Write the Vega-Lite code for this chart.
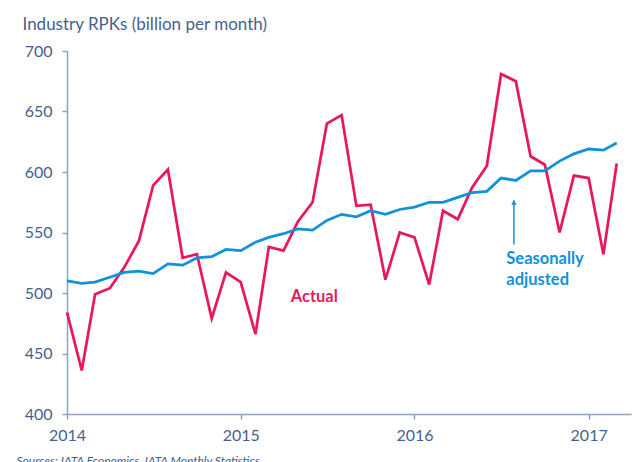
{
  "$schema": "https://vega.github.io/schema/vega-lite/v6.json",
  "autosize": "none",
  "width": 564,
  "height": 363,
  "padding": {"left": 67, "top": 51, "right": 5, "bottom": 48},
  "background": "white",
  "config": {
    "view": {"stroke": null},
    "font": "Lato",
    "axis": {
      "labelFont": "Lato",
      "labelFontSize": 16,
      "labelColor": "#46618F",
      "domainColor": "#8EA2C4",
      "domainWidth": 1.5,
      "tickColor": "#8EA2C4",
      "tickWidth": 1.5,
      "tickSize": 5,
      "grid": false
    }
  },
  "datasets": {
    "series": [
      {"date": "2014-01-01", "actual": 484, "sa": 510},
      {"date": "2014-02-01", "actual": 436, "sa": 508},
      {"date": "2014-03-01", "actual": 499, "sa": 509},
      {"date": "2014-04-01", "actual": 504, "sa": 513},
      {"date": "2014-05-01", "actual": 521, "sa": 517},
      {"date": "2014-06-01", "actual": 543, "sa": 518},
      {"date": "2014-07-01", "actual": 589, "sa": 516},
      {"date": "2014-08-01", "actual": 602, "sa": 524},
      {"date": "2014-09-01", "actual": 529, "sa": 523},
      {"date": "2014-10-01", "actual": 532, "sa": 529},
      {"date": "2014-11-01", "actual": 479, "sa": 530},
      {"date": "2014-12-01", "actual": 517, "sa": 536},
      {"date": "2015-01-01", "actual": 509, "sa": 535},
      {"date": "2015-02-01", "actual": 466, "sa": 542},
      {"date": "2015-03-01", "actual": 538, "sa": 546},
      {"date": "2015-04-01", "actual": 535, "sa": 549},
      {"date": "2015-05-01", "actual": 559, "sa": 553},
      {"date": "2015-06-01", "actual": 575, "sa": 552},
      {"date": "2015-07-01", "actual": 640, "sa": 560},
      {"date": "2015-08-01", "actual": 647, "sa": 565},
      {"date": "2015-09-01", "actual": 572, "sa": 563},
      {"date": "2015-10-01", "actual": 573, "sa": 568},
      {"date": "2015-11-01", "actual": 511, "sa": 565},
      {"date": "2015-12-01", "actual": 550, "sa": 569},
      {"date": "2016-01-01", "actual": 546, "sa": 571},
      {"date": "2016-02-01", "actual": 507, "sa": 575},
      {"date": "2016-03-01", "actual": 568, "sa": 575},
      {"date": "2016-04-01", "actual": 561, "sa": 579},
      {"date": "2016-05-01", "actual": 587, "sa": 583},
      {"date": "2016-06-01", "actual": 605, "sa": 584},
      {"date": "2016-07-01", "actual": 681, "sa": 595},
      {"date": "2016-08-01", "actual": 675, "sa": 593},
      {"date": "2016-09-01", "actual": 613, "sa": 601},
      {"date": "2016-10-01", "actual": 606, "sa": 601},
      {"date": "2016-11-01", "actual": 550, "sa": 609},
      {"date": "2016-12-01", "actual": 597, "sa": 615},
      {"date": "2017-01-01", "actual": 595, "sa": 619},
      {"date": "2017-02-01", "actual": 532, "sa": 618},
      {"date": "2017-03-01", "actual": 607, "sa": 624}
    ],
    "notes": [
      {"date": "2015-04-16", "value": 496.7, "text": "Actual", "series": "Actual"},
      {"date": "2016-07-12", "value": 528.3, "text": "Seasonally", "series": "Seasonally adjusted"},
      {"date": "2016-07-12", "value": 511.0, "text": "adjusted", "series": "Seasonally adjusted"}
    ],
    "arrow": [
      {"date": "2016-07-28", "start": 540, "end": 576.5}
    ]
  },
  "layer": [
    {
      "data": {"name": "series"},
      "mark": {"type": "line", "color": "#E8185F", "strokeWidth": 2.75},
      "encoding": {
        "x": {
          "field": "date", "type": "temporal",
          "scale": {"type": "utc", "domain": [{"year": 2014, "month": 1, "date": 1, "utc": true}, {"year": 2017, "month": 3, "date": 31, "utc": true}]},
          "axis": {
            "title": "Sources: IATA Economics, IATA Monthly Statistics",
            "titleFont": "Lato", "titleFontSize": 12, "titleFontStyle": "italic", "titleFontWeight": "normal",
            "titleColor": "#46618F", "titleAlign": "left", "titleBaseline": "alphabetic",
            "titleX": -51, "titleY": 50, "titleAnchor": null,
            "values": [
              {"year": 2014, "month": 1, "date": 1, "utc": true},
              {"year": 2015, "month": 1, "date": 1, "utc": true},
              {"year": 2016, "month": 1, "date": 1, "utc": true},
              {"year": 2017, "month": 1, "date": 1, "utc": true}
            ],
            "format": "%Y", "labelPadding": 8, "labelFlush": false
          }
        },
        "y": {
          "field": "actual", "type": "quantitative",
          "scale": {"domain": [400, 700], "nice": false, "zero": false},
          "axis": {
            "values": [400, 450, 500, 550, 600, 650, 700],
            "labelPadding": 10,
            "title": "Industry RPKs (billion per month)",
            "titleFont": "Lato", "titleFontSize": 17, "titleFontWeight": "normal",
            "titleColor": "#46618F", "titleAngle": 0, "titleAlign": "left", "titleBaseline": "alphabetic",
            "titleX": -45, "titleY": -22, "titleAnchor": null
          }
        }
      }
    },
    {
      "data": {"name": "series"},
      "mark": {"type": "line", "color": "#0E92D8", "strokeWidth": 2.75},
      "encoding": {
        "x": {"field": "date", "type": "temporal"},
        "y": {"field": "sa", "type": "quantitative"}
      }
    },
    {
      "data": {"name": "arrow"},
      "mark": {"type": "rule", "color": "#0E92D8", "strokeWidth": 1.5},
      "encoding": {
        "x": {"field": "date", "type": "temporal"},
        "y": {"field": "start", "type": "quantitative"},
        "y2": {"field": "end"}
      }
    },
    {
      "data": {"name": "arrow"},
      "mark": {"type": "point", "shape": "triangle-up", "filled": true, "color": "#0E92D8", "size": 30, "opacity": 1, "yOffset": 2},
      "encoding": {
        "x": {"field": "date", "type": "temporal"},
        "y": {"field": "end", "type": "quantitative"}
      }
    },
    {
      "data": {"name": "notes"},
      "mark": {"type": "text", "align": "left", "baseline": "middle", "font": "Lato", "fontSize": 16.5, "fontWeight": "bold"},
      "encoding": {
        "x": {"field": "date", "type": "temporal"},
        "y": {"field": "value", "type": "quantitative"},
        "text": {"field": "text"},
        "color": {
          "field": "series", "type": "nominal",
          "scale": {"domain": ["Actual", "Seasonally adjusted"], "range": ["#E8185F", "#0E92D8"]},
          "legend": null
        }
      }
    }
  ]
}
